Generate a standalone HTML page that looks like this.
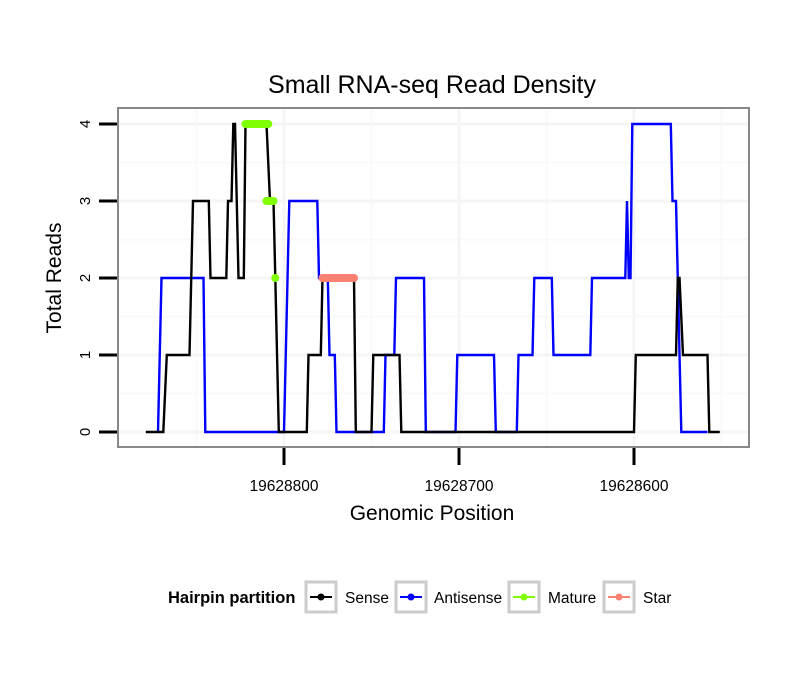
<!DOCTYPE html>
<html><head><meta charset="utf-8"><style>
body{margin:0;background:#fff;}
svg text{font-family:"Liberation Sans",sans-serif;}
</style></head><body>
<svg id="chart" width="810" height="690" xmlns="http://www.w3.org/2000/svg">
<rect width="810" height="690" fill="#fff"/>
<text x="432" y="93" font-size="25" text-anchor="middle">Small RNA-seq Read Density</text>
<g id="grid"></g>
<g id="series"></g>
<rect x="118" y="108" width="631" height="339" fill="none" stroke="#888" stroke-width="2"/>
<g id="axes"></g>
<text x="432" y="520" font-size="21" text-anchor="middle">Genomic Position</text>
<text transform="translate(61,278) rotate(-90)" font-size="21" text-anchor="middle">Total Reads</text>
<g>
<text x="168" y="603" font-size="16.5" font-weight="bold">Hairpin partition</text>
<g>
<rect x="306" y="582" width="30" height="30" fill="#fff" stroke="#ccc" stroke-width="3"/>
<line x1="310" y1="597" x2="332" y2="597" stroke="#000" stroke-width="2"/><circle cx="321" cy="597" r="3.5" fill="#000"/>
<text x="345" y="603" font-size="15.5">Sense</text></g>
<g>
<rect x="396" y="582" width="30" height="30" fill="#fff" stroke="#ccc" stroke-width="3"/>
<line x1="400" y1="597" x2="422" y2="597" stroke="#00f" stroke-width="2"/><circle cx="411" cy="597" r="3.5" fill="#00f"/>
<text x="434" y="603" font-size="15.5">Antisense</text></g>
<g>
<rect x="509" y="582" width="30" height="30" fill="#fff" stroke="#ccc" stroke-width="3"/>
<line x1="513" y1="597" x2="535" y2="597" stroke="#7fff00" stroke-width="2"/><circle cx="524" cy="597" r="3.5" fill="#7fff00"/>
<text x="548" y="603" font-size="15.5">Mature</text></g>
<g>
<rect x="604" y="582" width="30" height="30" fill="#fff" stroke="#ccc" stroke-width="3"/>
<line x1="608" y1="597" x2="630" y2="597" stroke="#fa8072" stroke-width="2"/><circle cx="619" cy="597" r="3.5" fill="#fa8072"/>
<text x="643" y="603" font-size="15.5">Star</text></g>
</g>
</svg>
<script>
const xTicks=[19628800,19628700,19628600];
const yTicks=[0,1,2,3,4];
const sensePos=[19628879,19628869,19628867,19628854,19628852,19628843,19628842,19628833,19628832,19628830,19628829,19628828,19628826,19628823,19628822,19628810,19628808,19628806,19628805,19628803,19628787,19628786,19628779,19628778,19628760,19628759,19628750,19628749,19628734,19628733,19628600,19628599,19628576,19628575,19628574,19628572,19628558,19628557,19628551];
const senseVal=[0,0,1,1,3,3,2,2,3,3,4,4,2,2,4,4,3,3,2,0,0,1,1,2,2,0,0,1,1,0,0,1,1,2,2,1,1,0,0];
const antiPos=[19628872,19628870,19628846,19628845,19628800,19628797,19628781,19628780,19628775,19628774,19628771,19628770,19628743,19628742,19628737,19628736,19628720,19628719,19628702,19628701,19628680,19628679,19628667,19628666,19628658,19628657,19628647,19628646,19628625,19628624,19628605,19628604,19628603,19628602,19628601,19628579,19628578,19628576,19628573,19628558];
const antiVal=[0,2,2,0,0,3,3,2,2,1,1,0,0,1,1,2,2,0,0,1,1,0,0,1,1,2,2,1,1,2,2,3,2,2,4,4,3,3,0,0];
const maturePos=[19628822,19628821,19628820,19628819,19628818,19628817,19628816,19628815,19628814,19628813,19628812,19628811,19628810,19628809,19628805];
const matureVal=[4,4,4,4,4,4,4,4,4,4,4,4,4,4,2];
const mature3Pos=[19628810,19628809,19628808,19628807,19628806];
const mature3Val=[3,3,3,3,3];
const starPos=[19628778,19628777,19628776,19628775,19628774,19628773,19628772,19628771,19628770,19628769,19628768,19628767,19628766,19628765,19628764,19628763,19628762,19628761,19628760];
const starVal=[2,2,2,2,2,2,2,2,2,2,2,2,2,2,2,2,2,2,2];

const NS='http://www.w3.org/2000/svg';
function X(p){return 284+(19628800-p)*1.75;}
function Y(v){return 432-v*77;}
function mk(t,a,parent){const e=document.createElementNS(NS,t);for(const k in a)e.setAttribute(k,a[k]);parent.appendChild(e);return e;}
const grid=document.getElementById('grid'),series=document.getElementById('series'),axes=document.getElementById('axes');
for(let i=0;i<yTicks.length-1;i++){const l=mk('line',{x1:118,x2:749,y1:Y(yTicks[i]+0.5),y2:Y(yTicks[i]+0.5),stroke:'#f9f9f9','stroke-width':2},grid);

}
for(let i=-1;i<xTicks.length;i++){const p=(i<0?xTicks[0]+50:xTicks[i]-50);const l=mk('line',{x1:X(p),x2:X(p),y1:108,y2:447,stroke:'#f9f9f9','stroke-width':2},grid);

}
yTicks.forEach(v=>{const l=mk('line',{x1:118,x2:749,y1:Y(v),y2:Y(v),stroke:'#f5f5f5','stroke-width':3},grid);


const t=mk('line',{x1:99,x2:117,y1:Y(v),y2:Y(v),stroke:'#000','stroke-width':3},axes);


const tx=mk('text',{transform:`translate(90,${Y(v)}) rotate(-90)`,'font-size':15,'text-anchor':'middle'},axes);tx.textContent=v;

});
xTicks.forEach(p=>{const l=mk('line',{x1:X(p),x2:X(p),y1:108,y2:447,stroke:'#f5f5f5','stroke-width':3},grid);


const t=mk('line',{x1:X(p),x2:X(p),y1:448,y2:465,stroke:'#000','stroke-width':3},axes);


const tx=mk('text',{x:X(p),y:491,'font-size':15.5,'text-anchor':'middle'},axes);tx.textContent=p;

});
function line(pos,val,color,name){const d=pos.map((p,i)=>X(p).toFixed(1)+','+Y(val[i]).toFixed(1)).join(' ');
const e=mk('polyline',{points:d,fill:'none',stroke:color,'stroke-width':2.4,'stroke-linejoin':'miter'},series);

}
line(antiPos,antiVal,'#00f','antisense-line');
line(sensePos,senseVal,'#000','sense-line');
function pts(pos,val,color,name){pos.forEach((p,i)=>{const c=mk('circle',{cx:X(p),cy:Y(val[i]),r:4,fill:color},series);

});}
pts(maturePos,matureVal,'#7fff00','mature-point');
pts(mature3Pos,mature3Val,'#7fff00','mature-point');
pts(starPos,starVal,'#fa8072','star-point');
</script>
</body></html>
